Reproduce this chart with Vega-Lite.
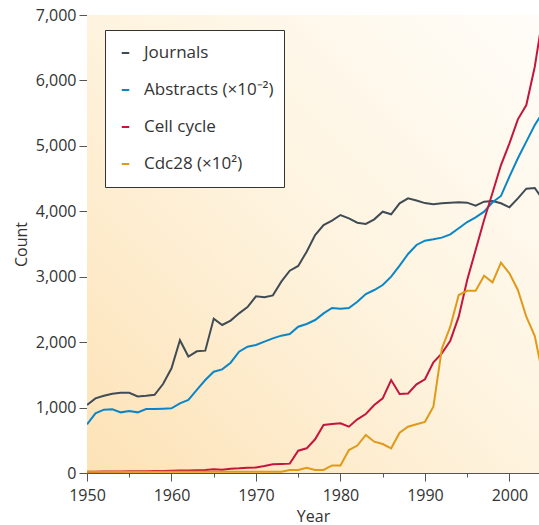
{
  "$schema": "https://vega.github.io/schema/vega-lite/v6.json",
  "autosize": {"type": "none"},
  "padding": {"left": 87, "top": 15, "right": 0, "bottom": 52},
  "width": 452,
  "height": 458,
  "background": "white",
  "config": {
    "font": "Open Sans",
    "view": {"stroke": null},
    "axis": {
      "grid": false,
      "labelFontSize": 16,
      "labelColor": "#333333",
      "labelFlush": false,
      "titleFontSize": 16,
      "titleFontWeight": "normal",
      "titleColor": "#333333",
      "domainColor": "#555555",
      "tickColor": "#555555",
      "labelPadding": 3
    }
  },
  "layer": [
    {
      "data": {"values": [{}]},
      "mark": {
        "type": "rect",
        "fill": {
          "gradient": "linear",
          "x1": 0, "y1": 1, "x2": 1, "y2": 0,
          "stops": [
            {"offset": 0, "color": "#fde2b6"},
            {"offset": 0.5, "color": "#fef3de"},
            {"offset": 1, "color": "#fffdf9"}
          ]
        }
      },
      "encoding": {
        "x": {"datum": 1950, "type": "quantitative"},
        "x2": {"datum": 2003.5},
        "y": {"datum": 0, "type": "quantitative"},
        "y2": {"datum": 7000}
      }
    },
    {
      "data": {
        "values": [
          {"year": 1950, "Journals": 1040, "Abstracts (×10⁻²)": 744, "Cell cycle": 20, "Cdc28 (×10²)": 20},
          {"year": 1951, "Journals": 1140, "Abstracts (×10⁻²)": 912, "Cell cycle": 20, "Cdc28 (×10²)": 20},
          {"year": 1952, "Journals": 1180, "Abstracts (×10⁻²)": 968, "Cell cycle": 22, "Cdc28 (×10²)": 20},
          {"year": 1953, "Journals": 1210, "Abstracts (×10⁻²)": 973, "Cell cycle": 22, "Cdc28 (×10²)": 20},
          {"year": 1954, "Journals": 1225, "Abstracts (×10⁻²)": 927, "Cell cycle": 24, "Cdc28 (×10²)": 20},
          {"year": 1955, "Journals": 1225, "Abstracts (×10⁻²)": 948, "Cell cycle": 25, "Cdc28 (×10²)": 20},
          {"year": 1956, "Journals": 1170, "Abstracts (×10⁻²)": 927, "Cell cycle": 26, "Cdc28 (×10²)": 20},
          {"year": 1957, "Journals": 1180, "Abstracts (×10⁻²)": 978, "Cell cycle": 28, "Cdc28 (×10²)": 20},
          {"year": 1958, "Journals": 1195, "Abstracts (×10⁻²)": 978, "Cell cycle": 30, "Cdc28 (×10²)": 20},
          {"year": 1959, "Journals": 1360, "Abstracts (×10⁻²)": 983, "Cell cycle": 32, "Cdc28 (×10²)": 20},
          {"year": 1960, "Journals": 1600, "Abstracts (×10⁻²)": 988, "Cell cycle": 35, "Cdc28 (×10²)": 20},
          {"year": 1961, "Journals": 2030, "Abstracts (×10⁻²)": 1065, "Cell cycle": 38, "Cdc28 (×10²)": 20},
          {"year": 1962, "Journals": 1780, "Abstracts (×10⁻²)": 1116, "Cell cycle": 40, "Cdc28 (×10²)": 20},
          {"year": 1963, "Journals": 1860, "Abstracts (×10⁻²)": 1269, "Cell cycle": 42, "Cdc28 (×10²)": 20},
          {"year": 1964, "Journals": 1870, "Abstracts (×10⁻²)": 1421, "Cell cycle": 46, "Cdc28 (×10²)": 20},
          {"year": 1965, "Journals": 2360, "Abstracts (×10⁻²)": 1548, "Cell cycle": 56, "Cdc28 (×10²)": 20},
          {"year": 1966, "Journals": 2262, "Abstracts (×10⁻²)": 1584, "Cell cycle": 48, "Cdc28 (×10²)": 20},
          {"year": 1967, "Journals": 2330, "Abstracts (×10⁻²)": 1686, "Cell cycle": 66, "Cdc28 (×10²)": 20},
          {"year": 1968, "Journals": 2440, "Abstracts (×10⁻²)": 1854, "Cell cycle": 72, "Cdc28 (×10²)": 20},
          {"year": 1969, "Journals": 2535, "Abstracts (×10⁻²)": 1931, "Cell cycle": 81, "Cdc28 (×10²)": 20},
          {"year": 1970, "Journals": 2700, "Abstracts (×10⁻²)": 1956, "Cell cycle": 85, "Cdc28 (×10²)": 20},
          {"year": 1971, "Journals": 2688, "Abstracts (×10⁻²)": 2007, "Cell cycle": 107, "Cdc28 (×10²)": 20},
          {"year": 1972, "Journals": 2715, "Abstracts (×10⁻²)": 2058, "Cell cycle": 133, "Cdc28 (×10²)": 20},
          {"year": 1973, "Journals": 2925, "Abstracts (×10⁻²)": 2099, "Cell cycle": 138, "Cdc28 (×10²)": 20},
          {"year": 1974, "Journals": 3092, "Abstracts (×10⁻²)": 2124, "Cell cycle": 143, "Cdc28 (×10²)": 46},
          {"year": 1975, "Journals": 3164, "Abstracts (×10⁻²)": 2236, "Cell cycle": 341, "Cdc28 (×10²)": 46},
          {"year": 1976, "Journals": 3383, "Abstracts (×10⁻²)": 2277, "Cell cycle": 377, "Cdc28 (×10²)": 81},
          {"year": 1977, "Journals": 3637, "Abstracts (×10⁻²)": 2338, "Cell cycle": 515, "Cdc28 (×10²)": 46},
          {"year": 1978, "Journals": 3790, "Abstracts (×10⁻²)": 2440, "Cell cycle": 734, "Cdc28 (×10²)": 46},
          {"year": 1979, "Journals": 3857, "Abstracts (×10⁻²)": 2522, "Cell cycle": 749, "Cdc28 (×10²)": 115},
          {"year": 1980, "Journals": 3943, "Abstracts (×10⁻²)": 2511, "Cell cycle": 759, "Cdc28 (×10²)": 115},
          {"year": 1981, "Journals": 3892, "Abstracts (×10⁻²)": 2522, "Cell cycle": 708, "Cdc28 (×10²)": 351},
          {"year": 1982, "Journals": 3826, "Abstracts (×10⁻²)": 2618, "Cell cycle": 820, "Cdc28 (×10²)": 420},
          {"year": 1983, "Journals": 3806, "Abstracts (×10⁻²)": 2736, "Cell cycle": 902, "Cdc28 (×10²)": 581},
          {"year": 1984, "Journals": 3877, "Abstracts (×10⁻²)": 2797, "Cell cycle": 1039, "Cdc28 (×10²)": 479},
          {"year": 1985, "Journals": 3994, "Abstracts (×10⁻²)": 2873, "Cell cycle": 1141, "Cdc28 (×10²)": 443},
          {"year": 1986, "Journals": 3954, "Abstracts (×10⁻²)": 3001, "Cell cycle": 1421, "Cdc28 (×10²)": 377},
          {"year": 1987, "Journals": 4122, "Abstracts (×10⁻²)": 3169, "Cell cycle": 1207, "Cdc28 (×10²)": 616},
          {"year": 1988, "Journals": 4198, "Abstracts (×10⁻²)": 3347, "Cell cycle": 1215, "Cdc28 (×10²)": 708},
          {"year": 1989, "Journals": 4165, "Abstracts (×10⁻²)": 3485, "Cell cycle": 1355, "Cdc28 (×10²)": 744},
          {"year": 1990, "Journals": 4125, "Abstracts (×10⁻²)": 3551, "Cell cycle": 1432, "Cdc28 (×10²)": 782},
          {"year": 1991, "Journals": 4107, "Abstracts (×10⁻²)": 3572, "Cell cycle": 1692, "Cdc28 (×10²)": 1014},
          {"year": 1992, "Journals": 4122, "Abstracts (×10⁻²)": 3597, "Cell cycle": 1829, "Cdc28 (×10²)": 1900},
          {"year": 1993, "Journals": 4132, "Abstracts (×10⁻²)": 3648, "Cell cycle": 2022, "Cdc28 (×10²)": 2236},
          {"year": 1994, "Journals": 4137, "Abstracts (×10⁻²)": 3740, "Cell cycle": 2389, "Cdc28 (×10²)": 2720},
          {"year": 1995, "Journals": 4132, "Abstracts (×10⁻²)": 3836, "Cell cycle": 2950, "Cdc28 (×10²)": 2785},
          {"year": 1996, "Journals": 4086, "Abstracts (×10⁻²)": 3907, "Cell cycle": 3408, "Cdc28 (×10²)": 2787},
          {"year": 1997, "Journals": 4147, "Abstracts (×10⁻²)": 3994, "Cell cycle": 3867, "Cdc28 (×10²)": 3014},
          {"year": 1998, "Journals": 4157, "Abstracts (×10⁻²)": 4137, "Cell cycle": 4284, "Cdc28 (×10²)": 2914},
          {"year": 1999, "Journals": 4122, "Abstracts (×10⁻²)": 4234, "Cell cycle": 4707, "Cdc28 (×10²)": 3214},
          {"year": 2000, "Journals": 4061, "Abstracts (×10⁻²)": 4529, "Cell cycle": 5038, "Cdc28 (×10²)": 3052},
          {"year": 2001, "Journals": 4198, "Abstracts (×10⁻²)": 4810, "Cell cycle": 5405, "Cdc28 (×10²)": 2797},
          {"year": 2002, "Journals": 4345, "Abstracts (×10⁻²)": 5064, "Cell cycle": 5624, "Cdc28 (×10²)": 2389},
          {"year": 2003, "Journals": 4356, "Abstracts (×10⁻²)": 5319, "Cell cycle": 6210, "Cdc28 (×10²)": 2094},
          {"year": 2004, "Journals": 4172, "Abstracts (×10⁻²)": 5523, "Cell cycle": 7020, "Cdc28 (×10²)": 1462}
        ]
      },
      "transform": [
        {"fold": ["Journals", "Abstracts (×10⁻²)", "Cell cycle", "Cdc28 (×10²)"], "as": ["series", "value"]}
      ],
      "mark": {"type": "line", "strokeWidth": 2, "clip": true},
      "encoding": {
        "x": {
          "field": "year",
          "type": "quantitative",
          "scale": {"domain": [1950, 2003.5], "nice": false, "zero": false},
          "axis": {
            "title": "Year",
            "values": [1950, 1955, 1960, 1965, 1970, 1975, 1980, 1985, 1990, 1995, 2000],
            "labelExpr": "datum.value % 10 === 0 ? datum.value : ''",
            "tickSize": {"condition": {"test": "datum.value % 10 === 0", "value": 8}, "value": 4},
            "labelPadding": 6,
            "titlePadding": 5
          }
        },
        "y": {
          "field": "value",
          "type": "quantitative",
          "scale": {"domain": [0, 7000], "nice": false},
          "axis": {
            "title": "Count",
            "values": [0, 500, 1000, 1500, 2000, 2500, 3000, 3500, 4000, 4500, 5000, 5500, 6000, 6500, 7000],
            "labelExpr": "datum.value % 1000 === 0 ? format(datum.value, ',') : ''",
            "tickSize": {"condition": {"test": "datum.value % 1000 === 0", "value": 8}, "value": 4},
            "titlePadding": 6
          }
        },
        "color": {
          "field": "series",
          "type": "nominal",
          "scale": {
            "domain": ["Journals", "Abstracts (×10⁻²)", "Cell cycle", "Cdc28 (×10²)"],
            "range": ["#404c55", "#0a86c8", "#c4163c", "#e09a1a"]
          },
          "legend": {
            "orient": "none",
            "legendX": 18,
            "legendY": 15,
            "title": null,
            "fillColor": "white",
            "strokeColor": "#333333",
            "padding": 10,
            "symbolType": "stroke",
            "symbolSize": 56,
            "symbolStrokeWidth": 2,
            "labelFontSize": 17,
            "labelColor": "#333333",
            "labelOffset": 10,
            "rowPadding": 11,
            "clipHeight": 26,
            "symbolOffset": 2
          }
        }
      }
    }
  ]
}
